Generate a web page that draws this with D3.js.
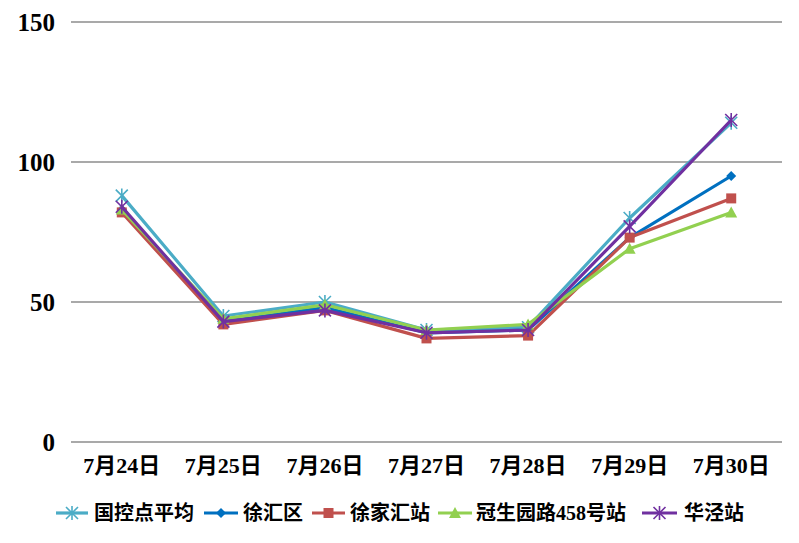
<!DOCTYPE html>
<html><head><meta charset="utf-8">
<script src="https://cdn.jsdelivr.net/npm/d3@7"></script>
<style>
body{margin:0;background:#fff;}
text{font-family:"Liberation Serif","Noto Sans CJK SC",serif;font-weight:bold;fill:#000;}
</style></head>
<body><svg id="c" width="799" height="543"></svg>
<script>
const categories = ["7月24日","7月25日","7月26日","7月27日","7月28日","7月29日","7月30日"];
const seriesNames = ["国控点平均","徐汇区","徐家汇站","冠生园路458号站","华泾站"];
const s_guokong = [88,45,50,40,41,80,114];
const s_xuhui = [83,43,48,39,40,73,95];
const s_xujiahui = [82,42,47,37,38,73,87];
const s_guansheng = [83,44,49,40,42,69,82];
const s_huajing = [84,43,47,39,40,77,115];
const yTicks = [0,50,100,150];
const colors = ["#4BACC6","#0070C0","#C0504D","#92D050","#7030A0"];
const markers = ["star","diamond","square","triangle","xstar"];
const seriesData = [s_guokong,s_xuhui,s_xujiahui,s_guansheng,s_huajing];

const svg = d3.select("#c");
const L=71, R=782, T=22, B=442;
const x = d3.scaleBand().domain(categories).range([L,R]);
const y = d3.scaleLinear().domain([0,150]).range([B,T]);

// gridlines
svg.append("g").selectAll("line").data(yTicks).join("line")
  .attr("x1",L).attr("x2",R).attr("y1",d=>y(d)).attr("y2",d=>y(d))
  .attr("stroke","#8c8c8c").attr("stroke-width",1.5);

// y axis labels
const yAxis = d3.axisLeft(y).tickValues(yTicks).tickSize(0).tickPadding(16);
const ga = svg.append("g").attr("transform",`translate(${L},0)`).call(yAxis);
ga.select(".domain").remove();
ga.selectAll("text").style("font-size","25px").attr("dy","0.33em")
  .style("font-family","'Liberation Serif',serif").style("font-weight","bold");

// x axis labels
const xAxis = d3.axisBottom(x).tickSize(0).tickPadding(15);
const gx = svg.append("g").attr("transform",`translate(0,${B})`).call(xAxis);
gx.select(".domain").remove();
gx.selectAll("text").style("font-size","22px");

function drawMarker(g, type, color, cx, cy, s){
  s = s||5;
  if(type==="diamond"){
    g.append("path").attr("d",`M${cx},${cy-s}L${cx+s},${cy}L${cx},${cy+s}L${cx-s},${cy}Z`).attr("fill",color);
  } else if(type==="square"){
    g.append("rect").attr("x",cx-s).attr("y",cy-s).attr("width",2*s).attr("height",2*s).attr("fill",color);
  } else if(type==="triangle"){
    g.append("path").attr("d",`M${cx},${cy-s-1}L${cx+s+1},${cy+s}L${cx-s-1},${cy+s}Z`).attr("fill",color);
  } else {
    g.append("path").attr("d",`M${cx-s},${cy-s}L${cx+s},${cy+s}M${cx-s},${cy+s}L${cx+s},${cy-s}M${cx},${cy-s-1}L${cx},${cy+s+1}`)
      .attr("stroke",color).attr("stroke-width",1.6).attr("fill","none");
  }
}

const line = d3.line().x((d,i)=>x(categories[i])+x.bandwidth()/2).y(d=>y(d));
seriesData.forEach((data,k)=>{
  const g = svg.append("g");
  g.append("path").attr("d",line(data)).attr("fill","none")
    .attr("stroke",colors[k]).attr("stroke-width",3.2).attr("stroke-linejoin","round");
  data.forEach((v,i)=>drawMarker(g,markers[k],colors[k],x(categories[i])+x.bandwidth()/2,y(v),k===0||k===4?6:5));
});

// legend
const legendItems = [
  {x0:56,x1:88,tx:94},
  {x0:204,x1:238,tx:243},
  {x0:312,x1:345,tx:350},
  {x0:438,x1:472,tx:476},
  {x0:642,x1:677,tx:684}
];
const ly = 513;
legendItems.forEach((it,k)=>{
  const g = svg.append("g");
  g.append("line").attr("x1",it.x0).attr("x2",it.x1).attr("y1",ly).attr("y2",ly)
    .attr("stroke",colors[k]).attr("stroke-width",3.2);
  drawMarker(g,markers[k],colors[k],(it.x0+it.x1)/2,ly,k===0||k===4?6:5);
  g.append("text").attr("x",it.tx).attr("y",ly).attr("dy","0.35em")
    .style("font-size","20px").text(seriesNames[k]);
});
</script></body></html>
